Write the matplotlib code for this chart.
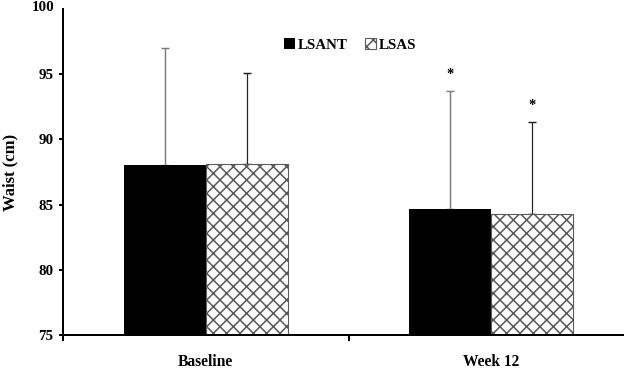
import matplotlib
matplotlib.use("Agg")
import matplotlib.pyplot as plt
import numpy as np

categories = ["Baseline", "Week 12"]
series_names = ["LSANT", "LSAS"]
lsant_mean = [88.0, 84.7]
lsant_sd = [9.0, 9.0]
lsas_mean = [88.1, 84.3]
lsas_sd = [7.0, 7.0]
sig_marks = ["", "*"]  # per category, shown above both bars
y_ticks = [75, 80, 85, 90, 95]

plt.rcParams['font.family'] = ['Liberation Serif', 'DejaVu Serif']
plt.rcParams['font.weight'] = 'bold'
plt.rcParams['axes.labelweight'] = 'bold'
plt.rcParams['hatch.linewidth'] = 1.4

DPI = 80
fig = plt.figure(figsize=(624 / DPI, 373 / DPI), dpi=DPI)
W, H = 624, 373
ax = fig.add_axes([63 / W, (H - 335) / H, (634 - 63) / W, (335 - 9) / H])

x = np.arange(len(categories))
w = 0.287

b1 = ax.bar(x - w / 2, lsant_mean, w, color='black', edgecolor='black', linewidth=0,
            label=series_names[0], zorder=2)
b2 = ax.bar(x + w / 2, lsas_mean, w, color='white', edgecolor='#5a5a5a', linewidth=1.0,
            hatch='xx', label=series_names[1], zorder=2)

ax.errorbar(x - w / 2, lsant_mean, yerr=[np.zeros(len(x)), lsant_sd], fmt='none',
            ecolor='#7a7a7a', elinewidth=1.3, capsize=3.5, capthick=1.3, zorder=1)
ax.errorbar(x + w / 2, lsas_mean, yerr=[np.zeros(len(x)), lsas_sd], fmt='none',
            ecolor='#222222', elinewidth=1.1, capsize=3.5, capthick=1.3, zorder=1)

for i, m in enumerate(sig_marks):
    if m:
        ax.annotate(m, xy=(x[i] - w / 2, lsant_mean[i] + lsant_sd[i]), xytext=(0, 15),
                    textcoords='offset points', ha='center', va='center',
                    fontsize=13, fontweight='bold')
        ax.annotate(m, xy=(x[i] + w / 2, lsas_mean[i] + lsas_sd[i]), xytext=(0, 15),
                    textcoords='offset points', ha='center', va='center',
                    fontsize=13, fontweight='bold')

ax.set_xlim(-0.5, 1.5)
ax.set_ylim(75, 100)
ax.set_yticks(y_ticks)
ax.set_yticklabels([str(t) for t in y_ticks])
ax.tick_params(axis='y', direction='out', length=3.6, width=1.8, pad=5, labelsize=13.5)

ax.set_xticks([-0.5, 0.5, 1.5])
ax.set_xticklabels([])
ax.set_xticks(x, minor=True)
ax.set_xticklabels(categories, minor=True, fontsize=14)
ax.tick_params(axis='x', which='major', direction='out', length=5.4, width=1.8)
ax.tick_params(axis='x', which='minor', length=0, pad=17)

ax.annotate("100", xy=(0, 1), xycoords='axes fraction', xytext=(-8, 1),
            textcoords='offset points', ha='right', va='center', fontsize=13.5,
            annotation_clip=False)

for s in ['top', 'right']:
    ax.spines[s].set_visible(False)
for s in ['left', 'bottom']:
    ax.spines[s].set_linewidth(1.8)

ax.set_ylabel("Waist (cm)", fontsize=15, fontweight='bold')
ax.yaxis.set_label_coords(-(63 - 18) / (634 - 63), 0.5)

leg = ax.legend(loc='upper center', bbox_to_anchor=(287 / 571, 0.93),
                ncol=2, frameon=False, fontsize=13.5, handlelength=0.75, handleheight=0.75,
                handletextpad=0.15, columnspacing=1.2, borderaxespad=0)

fig.savefig("out.png", dpi=DPI)
